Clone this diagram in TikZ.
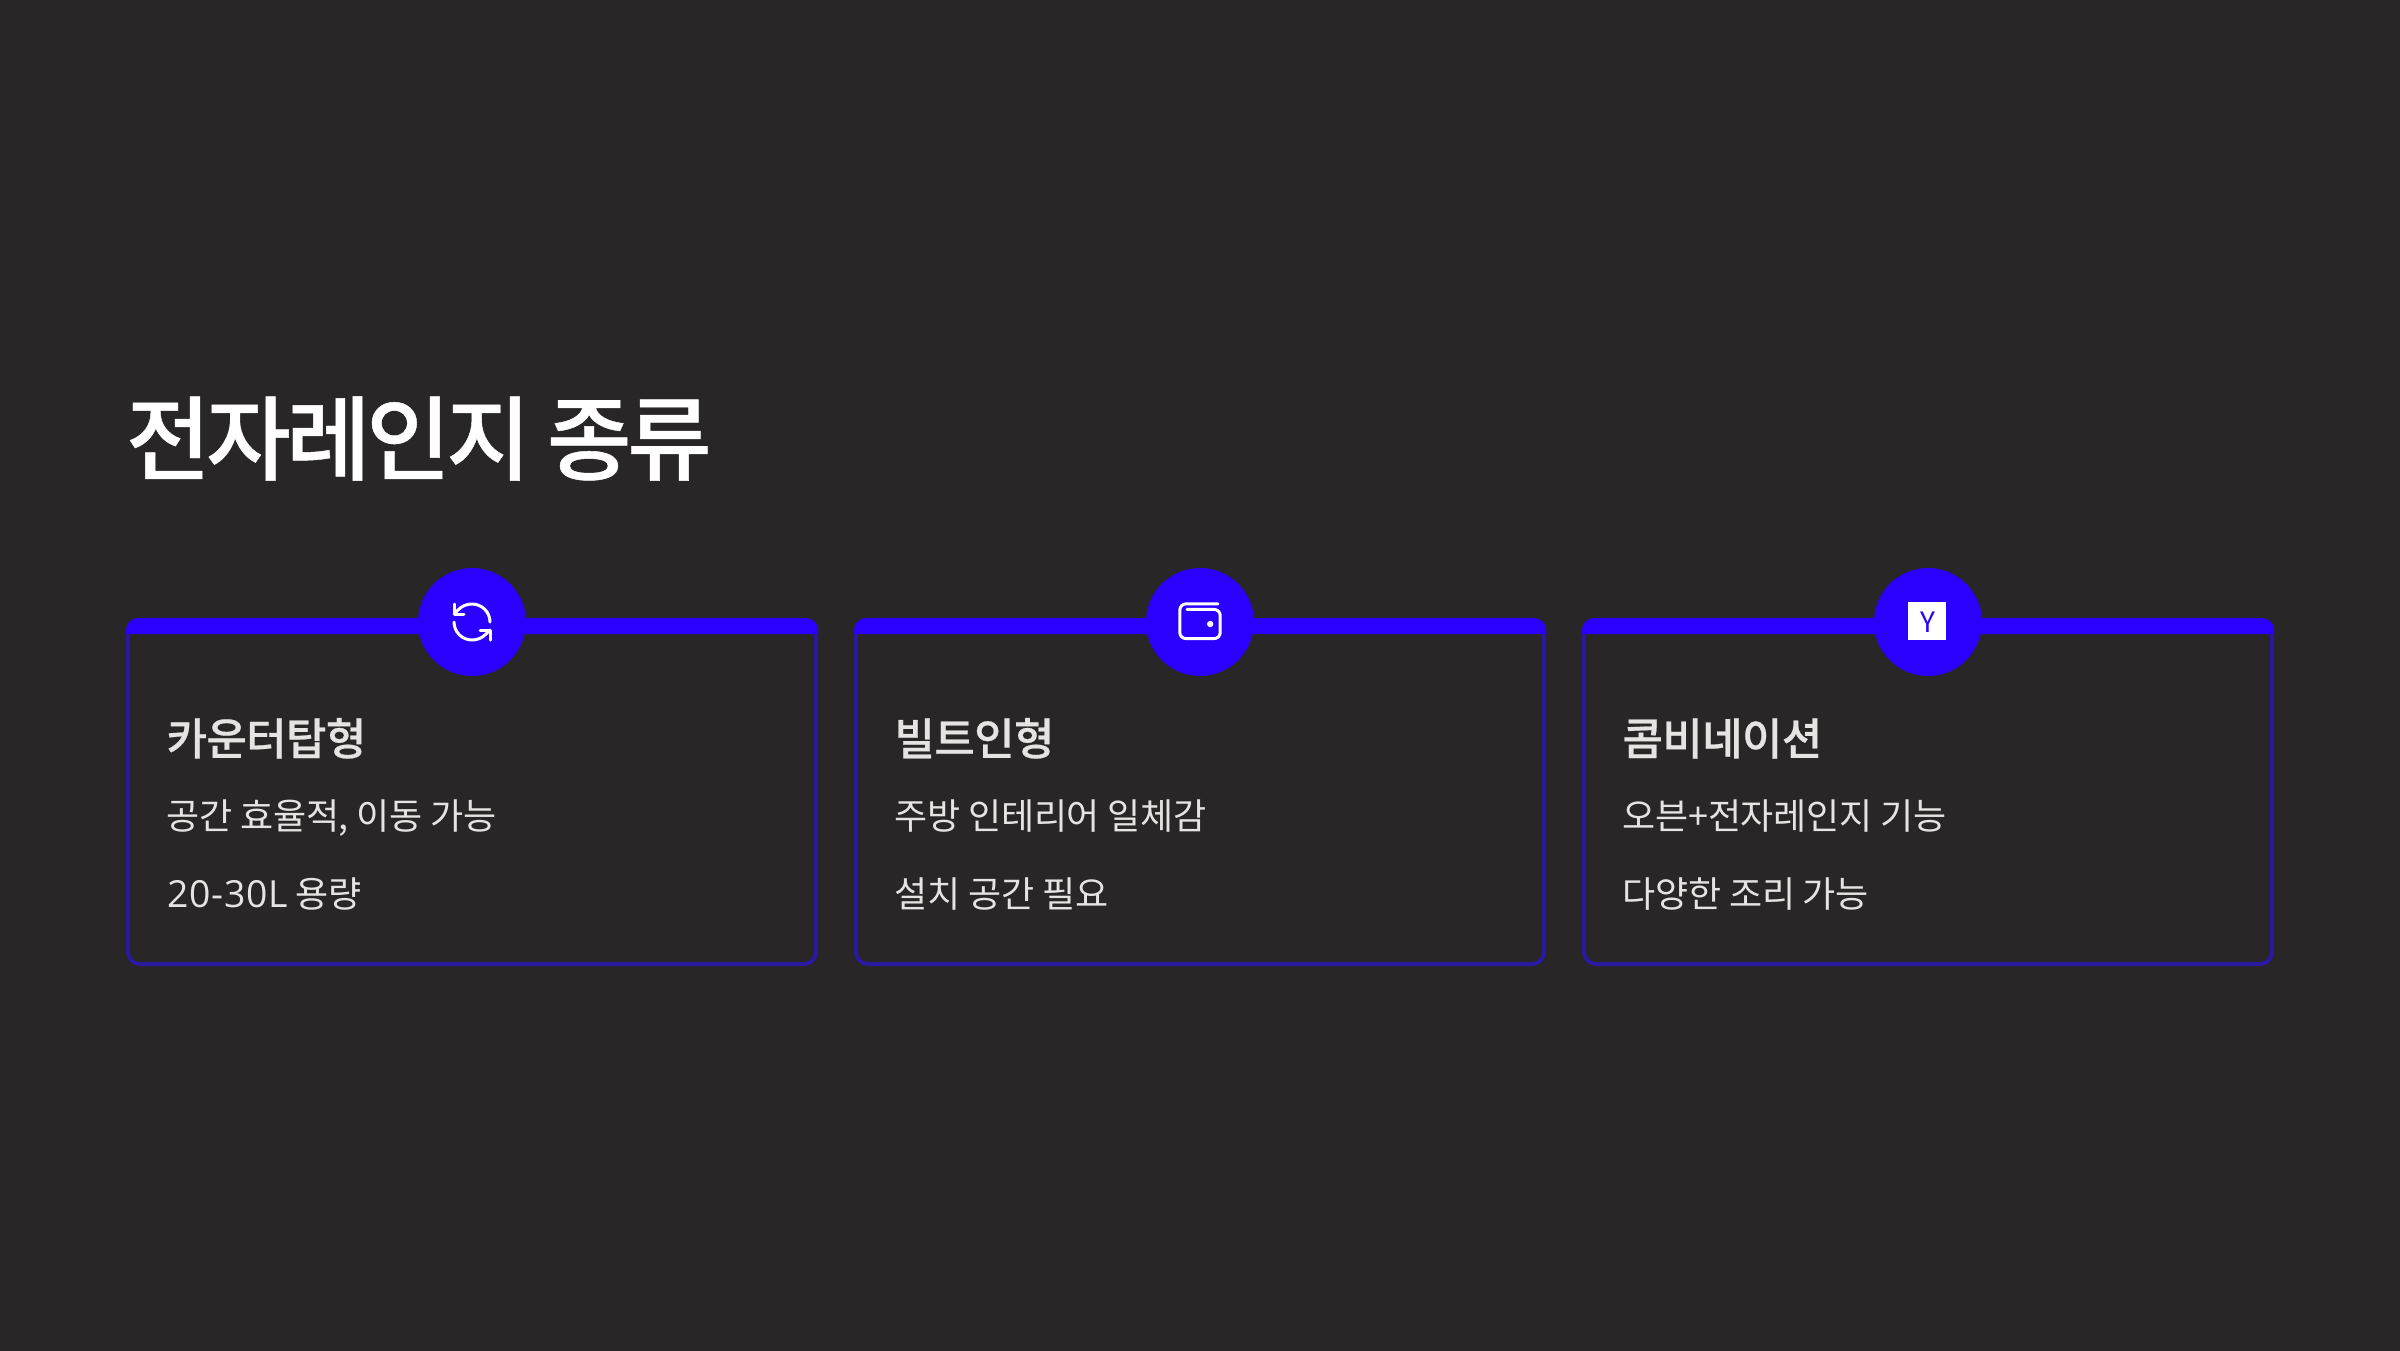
\documentclass[tikz,border=0pt]{standalone}
\usepackage{fontspec}
\setmainfont{Noto Sans CJK KR}[BoldFont={Noto Sans CJK KR Medium},BoldFeatures={FakeBold=0.5}]
\newfontfamily\digitfont{Open Sans}[LetterSpace=2]
\definecolor{pagebg}{RGB}{40,38,39}
\definecolor{bandblue}{RGB}{43,0,255}
\definecolor{edgeblue}{RGB}{42,24,158}
\definecolor{softwhite}{RGB}{232,227,227}
\tikzset{every picture/.style={line width=0.75pt}}
\tikzset{
  headline/.style={anchor=base west,inner sep=0pt,text=white,font=\fontsize{69}{69}\selectfont\bfseries\addfontfeature{LetterSpace=-5}},
  cardhead/.style={anchor=base west,inner sep=0pt,text=softwhite,font=\fontsize{33}{33}\selectfont\bfseries\addfontfeature{LetterSpace=-1.5}},
  cardline/.style={anchor=base west,inner sep=0pt,text=softwhite,font=\fontsize{27}{27}\selectfont\addfontfeature{LetterSpace=-0.7}},
  cardedge/.style={draw=edgeblue,line width=3pt,rounded corners=9pt},
  badge/.style={circle,fill=bandblue,minimum size=81pt,inner sep=0pt},
  iconline/.style={draw=white,line width=2.25pt,line cap=round,line join=round},
}
\begin{document}
\begin{tikzpicture}[x=0.75pt,y=0.75pt,yscale=-1,xscale=1]
	\useasboundingbox (0,0) rectangle (2400,1350);
	\fill [pagebg] (-6,-6) rectangle (2406,1356);

	% Title
	\node [headline] (title) at (125.5,473) {전자레인지 종류};

	%Card frames
	\draw [cardedge] (128,620) rectangle (816,964);
	\draw [cardedge] (856,620) rectangle (1544,964);
	\draw [cardedge] (1584,620) rectangle (2272,964);

	%Top bands
	\fill [bandblue] (126,634) -- (126,630) arc (180:270:12) -- (806,618) arc (270:360:12) -- (818,634) -- cycle;
	\fill [bandblue] (854,634) -- (854,630) arc (180:270:12) -- (1534,618) arc (270:360:12) -- (1546,634) -- cycle;
	\fill [bandblue] (1582,634) -- (1582,630) arc (180:270:12) -- (2262,618) arc (270:360:12) -- (2274,634) -- cycle;

	%Badges
	\node [badge] (badgeA) at (472,622) {};
	\node [badge] (badgeB) at (1200,622) {};
	\node [badge] (badgeC) at (1928,622) {};

	%Refresh icon
	\begin{scope}[shift={(448,598)},x=1.5pt,y=1.5pt]
	\draw [iconline] (21,12) .. controls (21,7.03) and (16.97,3) .. (12,3) .. controls (9.4,3) and (7.1,3.95) .. (5.26,5.74) -- (3,8);
	\draw [iconline] (3,3) -- (3,8) -- (8,8);
	\draw [iconline] (3,12) .. controls (3,16.97) and (7.03,21) .. (12,21) .. controls (14.6,21) and (16.9,20.05) .. (18.74,18.26) -- (21,16);
	\draw [iconline] (16,16) -- (21,16) -- (21,21);
	\end{scope}

	%Wallet icon
	\begin{scope}[shift={(1176,598)},x=1.5pt,y=1.5pt]
	\draw [iconline] (21,2.9) -- (5,2.9) .. controls (3.34,2.9) and (1.9,4.34) .. (1.9,6) -- (1.9,17.3) .. controls (1.9,19) and (3.34,20.3) .. (5,20.3) -- (19,20.3) .. controls (20.66,20.3) and (22.1,19) .. (22.1,17.3) -- (22.1,8.7) .. controls (22.1,7) and (20.66,5.7) .. (19,5.7) -- (5.5,5.7);
	\fill [white] (17.1,13) circle [radius=1.6];
	\end{scope}

	%Y icon
	\fill [white] (1908.3,602.3) rectangle (1946.4,640.4);
	\node [inner sep=0pt,text=bandblue,font=\fontsize{21}{21}\selectfont] (logoY) at (1927.5,622) {Y};

	% Card one
	\node [cardhead] (headA) at (166,755) {카운터탑형};
	\node [cardline] (lineAa) at (166,829) {공간 효율적, 이동 가능};
	\node [cardline] (lineAb) at (167,907) {{\digitfont\fontsize{28}{28}\selectfont 20-30L} 용량};
	% Card two
	\node [cardhead] (headB) at (894,755) {빌트인형};
	\node [cardline] (lineBa) at (894,829) {주방 인테리어 일체감};
	\node [cardline] (lineBb) at (894,907) {설치 공간 필요};
	% Card three
	\node [cardhead] (headC) at (1622,755) {콤비네이션};
	\node [cardline] (lineCa) at (1622,829) {오븐+전자레인지 기능};
	\node [cardline] (lineCb) at (1622,907) {다양한 조리 가능};
\end{tikzpicture}
\end{document}
